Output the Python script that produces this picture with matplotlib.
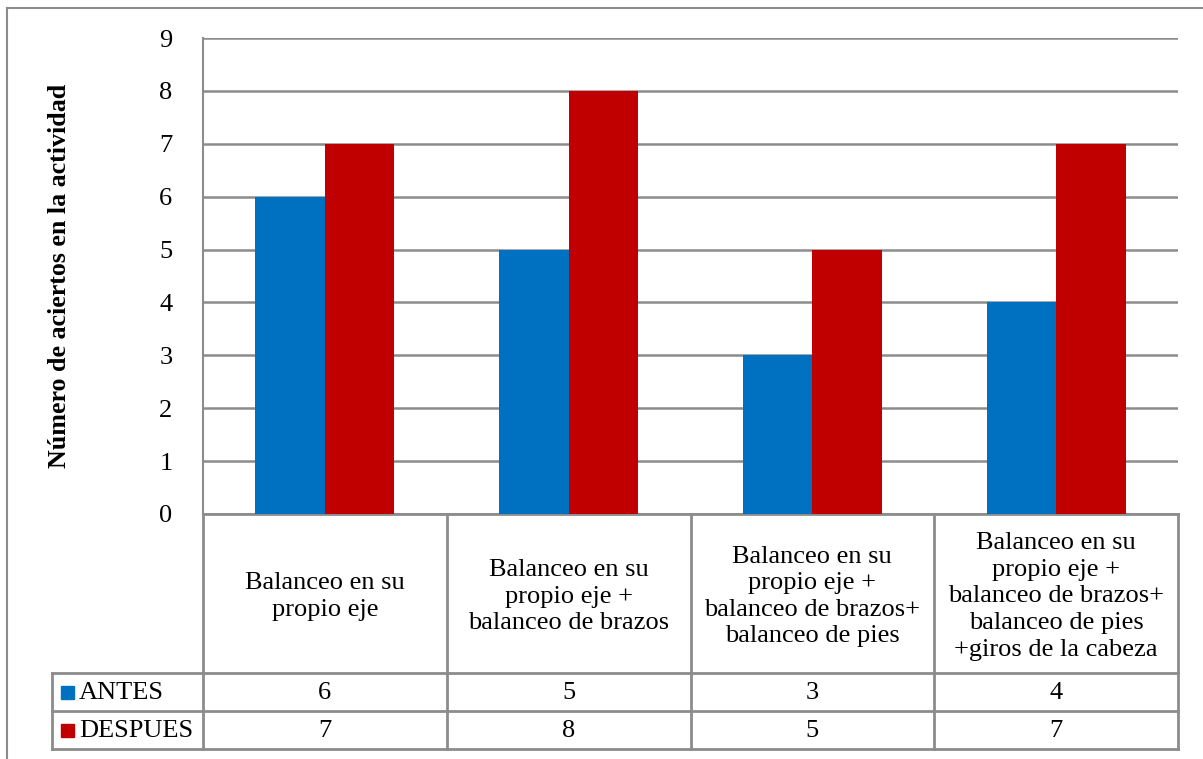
import matplotlib
matplotlib.use("Agg")
import matplotlib.pyplot as plt
import matplotlib.transforms as mtransforms
from matplotlib.lines import Line2D
from matplotlib.patches import Rectangle
import numpy as np

# Data
categories = [
    "Balanceo en su\npropio eje",
    "Balanceo en su\npropio eje +\nbalanceo de brazos",
    "Balanceo en su\npropio eje +\nbalanceo de brazos+\nbalanceo de pies",
    "Balanceo en su\npropio eje +\nbalanceo de brazos+\nbalanceo de pies\n+giros de la cabeza",
]
series_names = ["ANTES", "DESPUES"]
antes = [6, 5, 3, 4]
despues = [7, 8, 5, 7]
series_values = [antes, despues]
series_colors = ["#0070C0", "#C00000"]
y_ticks = list(range(0, 10))
y_label = "Número de aciertos en la actividad"

W, H = 1203, 759
DPI = 100
GRID = "#8c8c8c"
FS = 19
plt.rcParams["font.family"] = ["Liberation Serif", "DejaVu Serif"]

fig = plt.figure(figsize=(W / DPI, H / DPI), dpi=DPI)

# pixel-space overlay for frame and data table
ov = fig.add_axes([0, 0, 1, 1], zorder=0)
ov.set_xlim(0, W)
ov.set_ylim(H, 0)
ov.axis("off")

# plot area
px_left, px_right, px_top, px_bottom = 203, 1178, 38, 514
ax = fig.add_axes([px_left / W, 1 - px_bottom / H,
                   (px_right - px_left) / W, (px_bottom - px_top) / H], zorder=2)
ax.patch.set_alpha(0)

n = len(categories)
x = np.arange(n)
bw = 0.285
for k, (vals, col) in enumerate(zip(series_values, series_colors)):
    off = (k - 0.5) * bw
    ax.bar(x + off, vals, width=bw, color=col, zorder=3, linewidth=0)

ax.set_xlim(-0.5, n - 0.5)
ax.set_ylim(0, 9)
ax.set_yticks(y_ticks)
ax.set_yticklabels([str(t) for t in y_ticks], fontsize=FS)
ax.tick_params(axis="y", length=0, pad=22)
ax.tick_params(axis="x", length=0, labelbottom=False)
ax.grid(axis="y", color=GRID, linewidth=1.8, zorder=1)
for s in ["top", "right", "bottom"]:
    ax.spines[s].set_visible(False)
ax.spines["left"].set_color(GRID)
ax.spines["left"].set_linewidth(1.5)
ax.spines["left"].set_zorder(1)

# y-axis title
ov.text(60, (px_top + px_bottom) / 2, y_label, rotation=90, ha="center",
        va="center", fontsize=18.7, fontweight="bold")

# outer frame (top and left edges)
ov.add_line(Line2D([7, W], [8, 8], color=GRID, lw=1.5))
ov.add_line(Line2D([7, 7], [8, H], color=GRID, lw=1.5))

# data table
row_tops = [514, 673, 711, 749]
leg_left = 52
col_edges = [px_left + (px_right - px_left) * i / n for i in range(n + 1)]
for y in row_tops[1:]:
    ov.add_line(Line2D([leg_left, px_right], [y, y], color=GRID, lw=2))
ov.add_line(Line2D([px_left, px_right], [514, 514], color=GRID, lw=2))
for xe in col_edges:
    ov.add_line(Line2D([xe, xe], [514, 749], color=GRID, lw=2))
ov.add_line(Line2D([leg_left, leg_left], [673, 749], color=GRID, lw=2))

blend = mtransforms.blended_transform_factory(ax.transData, ov.transData)
for i, cat in enumerate(categories):
    ov.text(i, (row_tops[0] + row_tops[1]) / 2 + 3, cat, transform=blend,
            ha="center", va="center", fontsize=FS, linespacing=1.27)

for r, (name, vals, col) in enumerate(zip(series_names, series_values, series_colors)):
    yc = (row_tops[r + 1] + row_tops[r + 2]) / 2
    ov.add_patch(Rectangle((61, yc - 6.5), 13, 13, color=col))
    ov.text(79, yc + 1, name, ha="left", va="center", fontsize=FS)
    for i, v in enumerate(vals):
        ov.text(i, yc + 1, str(v), transform=blend, ha="center", va="center",
                fontsize=FS)

fig.savefig("out.png", dpi=DPI)
